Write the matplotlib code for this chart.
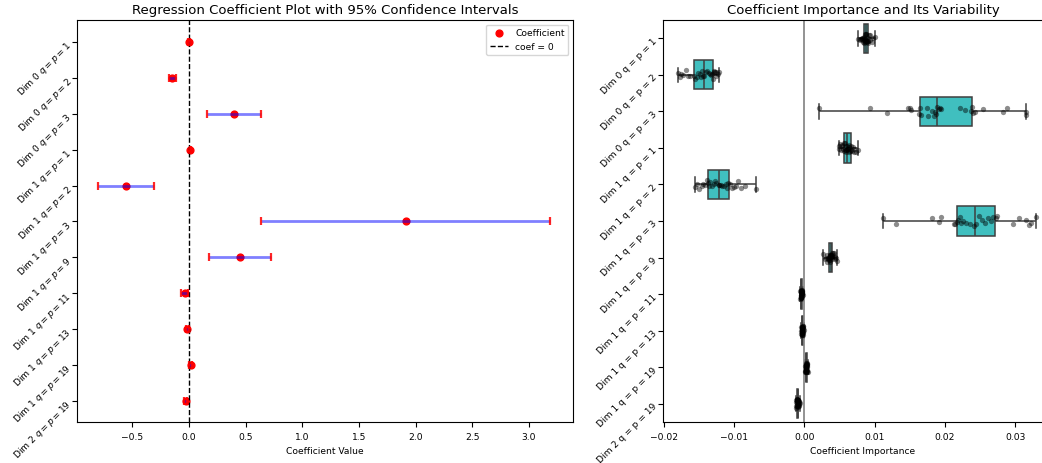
import numpy as np
import pandas as pd
import matplotlib
matplotlib.use("Agg")
import matplotlib.pyplot as plt
import seaborn as sns

# ---------------- data ----------------
features = ["Dim 0 q = p = 1", "Dim 0 q = p = 2", "Dim 0 q = p = 3",
            "Dim 1 q = p = 1", "Dim 1 q = p = 2", "Dim 1 q = p = 3",
            "Dim 1 q = p = 9", "Dim 1 q = p = 11", "Dim 1 q = p = 13",
            "Dim 1 q = p = 19", "Dim 2 q = p = 19"]
features_math = ["Dim 0 $q = p = 1$", "Dim 0 $q = p = 2$", "Dim 0 $q = p = 3$",
                 "Dim 1 $q = p = 1$", "Dim 1 $q = p = 2$", "Dim 1 $q = p = 3$",
                 "Dim 1 $q = p = 9$", "Dim 1 $q = p = 11$", "Dim 1 $q = p = 13$",
                 "Dim 1 $q = p = 19$", "Dim 2 $q = p = 19$"]

coef = [0.002, -0.150, 0.395, 0.012, -0.558, 1.911, 0.445, -0.033, -0.018, 0.013, -0.030]
ci_low = [-0.006, -0.180, 0.160, 0.004, -0.803, 0.631, 0.177, -0.068, -0.030, 0.003, -0.042]
ci_high = [0.010, -0.115, 0.634, 0.020, -0.307, 3.190, 0.725, -0.006, -0.005, 0.023, -0.018]

imp_d0_p1 = [0.0077, 0.0079, 0.0080, 0.0081, 0.0082, 0.0083, 0.0084, 0.0084, 0.0085, 0.0085,
             0.0086, 0.0086, 0.0087, 0.0087, 0.0087, 0.0088, 0.0088, 0.0088, 0.0089, 0.0089,
             0.0090, 0.0090, 0.0091, 0.0091, 0.0092, 0.0093, 0.0094, 0.0096, 0.0098, 0.0100]
imp_d0_p2 = [-0.0180, -0.0177, -0.0176, -0.0172, -0.0168, -0.0166, -0.0162, -0.0157, -0.0155, -0.0153,
             -0.0151, -0.0149, -0.0147, -0.0145, -0.0144, -0.0142, -0.0140, -0.0138, -0.0136, -0.0134,
             -0.0133, -0.0132, -0.0130, -0.0129, -0.0128, -0.0127, -0.0126, -0.0125, -0.0123, -0.0121]
imp_d0_p3 = [0.0021, 0.0093, 0.0118, 0.0148, 0.0150, 0.0152, 0.0163, 0.0165, 0.0166, 0.0174,
             0.0176, 0.0182, 0.0184, 0.0186, 0.0188, 0.0189, 0.0191, 0.0193, 0.0194, 0.0221,
             0.0229, 0.0237, 0.0239, 0.0240, 0.0243, 0.0254, 0.0283, 0.0289, 0.0315, 0.0316]
imp_d1_p1 = [0.0049, 0.0050, 0.0051, 0.0052, 0.0053, 0.0054, 0.0055, 0.0056, 0.0057, 0.0058,
             0.0059, 0.0059, 0.0060, 0.0060, 0.0061, 0.0061, 0.0062, 0.0062, 0.0063, 0.0063,
             0.0064, 0.0065, 0.0066, 0.0067, 0.0068, 0.0069, 0.0070, 0.0071, 0.0073, 0.0077]
imp_d1_p2 = [-0.0156, -0.0153, -0.0150, -0.0146, -0.0144, -0.0141, -0.0139, -0.0137, -0.0136, -0.0134,
             -0.0132, -0.0129, -0.0127, -0.0125, -0.0122, -0.0121, -0.0119, -0.0117, -0.0114, -0.0112,
             -0.0110, -0.0108, -0.0106, -0.0103, -0.0100, -0.0097, -0.0094, -0.0090, -0.0085, -0.0068]
imp_d1_p3 = [0.0112, 0.0131, 0.0181, 0.0191, 0.0195, 0.0213, 0.0215, 0.0217, 0.0219, 0.0221,
             0.0223, 0.0226, 0.0230, 0.0236, 0.0241, 0.0244, 0.0249, 0.0253, 0.0257, 0.0261,
             0.0265, 0.0269, 0.0272, 0.0274, 0.0297, 0.0305, 0.0316, 0.0319, 0.0322, 0.0329]
imp_d1_p9 = [0.0027, 0.0029, 0.0031, 0.0032, 0.0033, 0.0034, 0.0034, 0.0035, 0.0035, 0.0036,
             0.0036, 0.0036, 0.0037, 0.0037, 0.0037, 0.0038, 0.0038, 0.0038, 0.0039, 0.0039,
             0.0039, 0.0040, 0.0040, 0.0041, 0.0041, 0.0042, 0.0043, 0.0044, 0.0045, 0.0046]
imp_d1_p11 = [-0.00062, -0.00057, -0.00054, -0.00052, -0.00050, -0.00048, -0.00047, -0.00046, -0.00045, -0.00044,
              -0.00044, -0.00043, -0.00043, -0.00042, -0.00042, -0.00041, -0.00041, -0.00040, -0.00040, -0.00039,
              -0.00038, -0.00037, -0.00036, -0.00035, -0.00034, -0.00032, -0.00030, -0.00028, -0.00026, -0.00022]
imp_d1_p13 = [-0.00048, -0.00043, -0.00040, -0.00038, -0.00036, -0.00035, -0.00034, -0.00033, -0.00032, -0.00031,
              -0.00031, -0.00030, -0.00030, -0.00029, -0.00029, -0.00028, -0.00028, -0.00027, -0.00027, -0.00026,
              -0.00025, -0.00024, -0.00023, -0.00022, -0.00021, -0.00019, -0.00017, -0.00015, -0.00013, -0.00009]
imp_d1_p19 = [0.00010, 0.00014, 0.00017, 0.00019, 0.00021, 0.00022, 0.00023, 0.00024, 0.00025, 0.00026,
              0.00026, 0.00027, 0.00027, 0.00028, 0.00028, 0.00029, 0.00029, 0.00030, 0.00030, 0.00031,
              0.00032, 0.00033, 0.00034, 0.00035, 0.00036, 0.00038, 0.00040, 0.00042, 0.00045, 0.00049]
imp_d2_p19 = [-0.00125, -0.00120, -0.00116, -0.00112, -0.00109, -0.00106, -0.00104, -0.00102, -0.00100, -0.00099,
              -0.00098, -0.00097, -0.00096, -0.00095, -0.00095, -0.00094, -0.00093, -0.00092, -0.00091, -0.00090,
              -0.00089, -0.00088, -0.00086, -0.00084, -0.00082, -0.00080, -0.00078, -0.00075, -0.00072, -0.00066]

importances = [imp_d0_p1, imp_d0_p2, imp_d0_p3, imp_d1_p1, imp_d1_p2, imp_d1_p3,
               imp_d1_p9, imp_d1_p11, imp_d1_p13, imp_d1_p19, imp_d2_p19]

# ---------------- figure ----------------
W, H = 1042, 464
fig = plt.figure(figsize=(W / 100, H / 100), dpi=100)

def px_axes(x0, y0, x1, y1):
    return fig.add_axes([x0 / W, 1 - y1 / H, (x1 - x0) / W, (y1 - y0) / H])

TICK_FS = 6.6
LABEL_FS = 6.6
TITLE_FS = 9.5

# ---- left panel ----
ax1 = px_axes(77, 21, 573, 423)
ypos = np.arange(len(features))
coef_a = np.array(coef)
lo_a = np.array(ci_low)
hi_a = np.array(ci_high)

ax1.scatter(coef_a, ypos, color="red", s=24, zorder=2, label="Coefficient")
eb = ax1.errorbar(coef_a, ypos, xerr=[coef_a - lo_a, hi_a - coef_a], fmt="none",
                  ecolor="blue", elinewidth=2, alpha=0.5, capsize=2.8, capthick=1.6, zorder=3)
for cl in eb[1]:
    cl.set_markeredgecolor("red")
    cl.set_color("red")
    cl.set_alpha(0.85)
ax1.axvline(0, color="black", linestyle="--", linewidth=1, label="coef = 0")
ax1.set_yticks(ypos)
ax1.set_yticklabels(features_math, rotation=45, ha="right", rotation_mode="anchor",
                    fontsize=TICK_FS)
ax1.set_ylim(10.6, -0.62)
ax1.set_xlim(-0.99, 3.39)
ax1.tick_params(axis="x", labelsize=TICK_FS)
ax1.tick_params(axis="y", pad=2.5)
ax1.set_xlabel("Coefficient Value", fontsize=LABEL_FS)
ax1.set_title("Regression Coefficient Plot with 95% Confidence Intervals",
              fontsize=TITLE_FS, pad=5)
ax1.legend(loc="upper right", fontsize=LABEL_FS)

# ---- right panel ----
ax2 = px_axes(663, 21, 1063, 423)
df = pd.DataFrame({
    "feature": np.repeat(features, [len(v) for v in importances]),
    "importance": np.concatenate(importances),
})
sns.boxplot(data=df, x="importance", y="feature", order=features, ax=ax2,
            color="#40bfbf", saturation=1, whis=(0, 100), width=0.8, linewidth=1.1,
            linecolor="#3f3f3f")
np.random.seed(0)
sns.stripplot(data=df, x="importance", y="feature", order=features, ax=ax2,
              color="black", alpha=0.45, size=3.8, jitter=0.13)
ax2.axvline(0, color="gray", linewidth=1.2)
ax2.set_xlim(-0.0201, 0.0368)
ax2.set_yticks(ypos)
ax2.set_yticklabels(features, rotation=45, ha="right", rotation_mode="anchor",
                    fontsize=TICK_FS)
ax2.tick_params(axis="x", labelsize=TICK_FS)
ax2.tick_params(axis="y", pad=2.5)
ax2.set_xlabel("Coefficient Importance", fontsize=LABEL_FS)
ax2.set_ylabel("")
ax2.set_title("Coefficient Importance and Its Variability", fontsize=TITLE_FS, pad=5)

fig.savefig("out.png", dpi=100)
